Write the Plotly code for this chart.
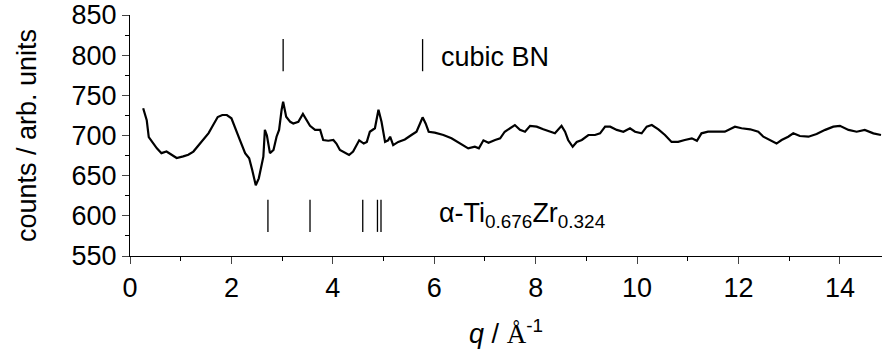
import plotly.graph_objects as go

# Scattering curve (q in 1/Å, counts in arb. units)
q_vals = [0.26, 0.33, 0.37, 0.46, 0.53, 0.62, 0.72, 0.82, 0.92, 1.05, 1.15, 1.25, 1.35, 1.45,
          1.55, 1.64, 1.73, 1.82, 1.91, 2.00, 2.07, 2.17, 2.27, 2.35, 2.41, 2.48, 2.54, 2.59,
          2.63, 2.66, 2.70, 2.76, 2.83, 2.89, 2.94, 2.99, 3.02, 3.08, 3.16, 3.22, 3.32, 3.41,
          3.48, 3.55, 3.65, 3.75, 3.81, 3.91, 4.01, 4.07, 4.14, 4.24, 4.32, 4.40, 4.52, 4.61,
          4.67, 4.73, 4.83, 4.90, 4.96, 5.03, 5.09, 5.13, 5.19, 5.29, 5.42, 5.55, 5.65, 5.72,
          5.77, 5.83, 5.89, 6.01, 6.18, 6.34, 6.51, 6.67, 6.80, 6.88, 6.97, 7.07, 7.20, 7.30,
          7.39, 7.49, 7.59, 7.69, 7.79, 7.89, 8.02, 8.15, 8.28, 8.38, 8.51, 8.58, 8.64, 8.73,
          8.81, 8.91, 9.04, 9.17, 9.27, 9.37, 9.47, 9.60, 9.73, 9.86, 9.96, 10.09, 10.19,
          10.29, 10.42, 10.55, 10.68, 10.81, 10.94, 11.08, 11.18, 11.27, 11.40, 11.57, 11.73,
          11.93, 12.06, 12.23, 12.39, 12.49, 12.62, 12.75, 12.85, 12.98, 13.08, 13.21, 13.38,
          13.54, 13.71, 13.87, 14.00, 14.17, 14.33, 14.49, 14.66, 14.81]
counts = [734, 719, 698, 690, 684, 678, 680, 676, 672, 674, 676, 680, 688, 696,
          703, 713, 723, 725.5, 725.5, 721.5, 711, 694, 678, 671.6, 657, 638, 646.7, 660,
          673.6, 707, 700, 678, 682, 698.5, 707, 732, 742, 723.4, 717, 715, 717, 726.8,
          719, 712, 707, 707, 694.4, 693.5, 694.4, 690, 682, 678, 675.7, 680, 694, 690,
          692, 704.7, 709, 732, 717, 692, 694, 698.5, 688, 692, 695, 700.6, 704.7, 715,
          722.6, 715, 704.7, 703.5, 700.6, 696.5, 690, 684, 686, 684, 694, 691, 694.4, 696.5,
          704.7, 709, 713, 707, 704.7, 712, 711, 707.7, 704.7, 702.7, 712, 704.7, 694.4, 686,
          692, 694.4, 700.6, 700.6, 702.7, 711, 711, 707, 704.7, 709, 704.7, 702.7, 711,
          713, 707.7, 700.6, 692, 692, 694.4, 696.5, 693.5, 702.7, 704.7, 704.7, 704.7,
          711, 709, 707.7, 704.7, 698.5, 694.4, 690, 694.4, 698.5, 702.7, 699.4, 698.5,
          701.8, 707, 711, 712, 707, 704.7, 707, 702.7, 700.6]

# Reflection markers
bn_positions = [3.02, 5.77]
bn_range = [780, 820]
ti_positions = [2.72, 3.55, 4.59, 4.88, 4.95]
ti_range = [580, 620]

bn_label = "cubic BN"
ti_label = "α-Ti<sub>0.676</sub>Zr<sub>0.324</sub>"

x_ticks = [0, 2, 4, 6, 8, 10, 12, 14]
y_ticks = [550, 600, 650, 700, 750, 800, 850]

FONT = "Arial, Liberation Sans, sans-serif"
FS = 27


def seg(positions, yr):
    xs, ys = [], []
    for p in positions:
        xs += [p, p, None]
        ys += [yr[0], yr[1], None]
    return xs, ys


fig = go.Figure()
fig.add_trace(go.Scatter(x=q_vals, y=counts, mode="lines",
                         line=dict(color="black", width=2.2), showlegend=False))
bx, by = seg(bn_positions, bn_range)
fig.add_trace(go.Scatter(x=bx, y=by, mode="lines",
                         line=dict(color="black", width=1.3), showlegend=False))
tx, ty = seg(ti_positions, ti_range)
fig.add_trace(go.Scatter(x=tx, y=ty, mode="lines",
                         line=dict(color="black", width=1.3), showlegend=False))

fig.add_annotation(x=6.09, y=798, text=bn_label, showarrow=False,
                   xanchor="left", yanchor="middle", font=dict(size=FS, color="black"))
fig.add_annotation(x=6.05, y=601, text=ti_label, showarrow=False,
                   xanchor="left", yanchor="middle", font=dict(size=FS, color="black"))

fig.update_layout(
    width=882, height=356,
    margin=dict(l=130, r=0, t=15, b=100),
    paper_bgcolor="white", plot_bgcolor="white",
    font=dict(family=FONT, size=FS, color="black"),
)
fig.update_xaxes(
    range=[0, 14.83], tickvals=x_ticks, ticks="outside", ticklen=7, tickwidth=1.3,
    showline=True, linecolor="black", linewidth=1.3, showgrid=False, zeroline=False,
    minor=dict(dtick=1, ticks="outside", ticklen=4, tickwidth=1.3, tickcolor="black"),
    tickfont=dict(size=FS),
    title=dict(text="<i>q</i> / <span style=\"font-family:'Liberation Serif', serif\">Å</span><sup>-1</sup>",
               font=dict(size=FS), standoff=22),
)
fig.update_yaxes(
    range=[550, 850], tickvals=y_ticks, ticks="outside", ticklen=7, tickwidth=1.3,
    showline=True, linecolor="black", linewidth=1.3, showgrid=False, zeroline=False,
    minor=dict(dtick=25, ticks="outside", ticklen=4, tickwidth=1.3, tickcolor="black"),
    tickfont=dict(size=FS),
    title=dict(text="counts / arb. units", font=dict(size=FS), standoff=26),
)

fig.write_html("out.html")
